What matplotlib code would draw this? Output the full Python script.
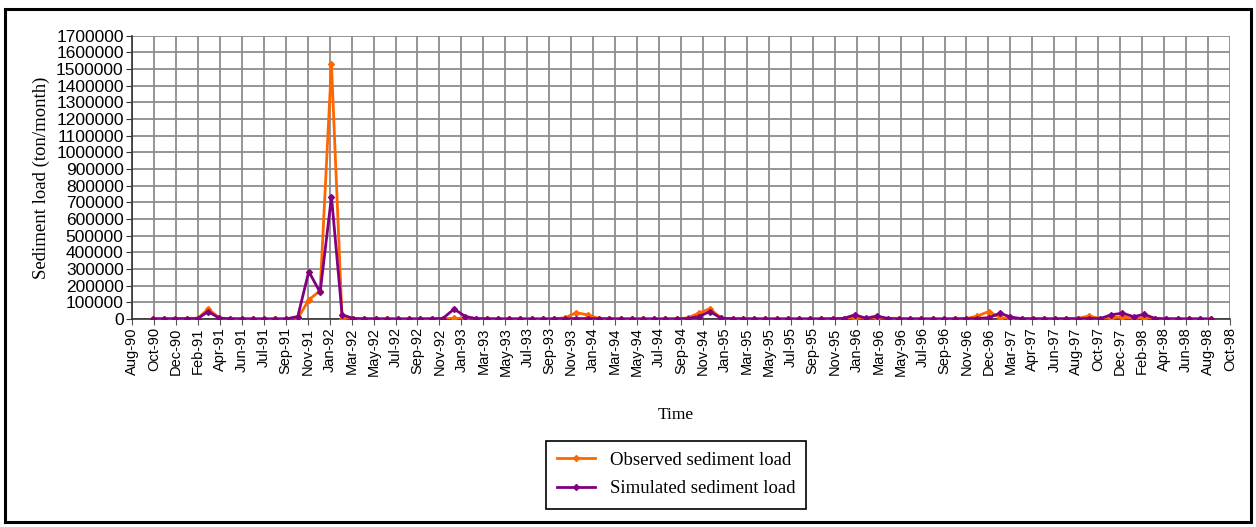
import datetime as dt
import matplotlib
matplotlib.use('Agg')
import matplotlib.pyplot as plt
import matplotlib.dates as mdates
from matplotlib.patches import Rectangle
from matplotlib.ticker import MultipleLocator, FuncFormatter

# Monthly sediment load, Oct-1990 .. Sep-1998 (ton/month), one row per water year
months = [dt.date(1990 + (9 + i) // 12, (9 + i) % 12 + 1, 1) for i in range(96)]

observed = [
    2000, 1500, 2000, 3000, 4000, 60000, 6000, 2000, 1000, 800, 500, 300,          # WY91
    200, 3000, 115000, 170000, 1530000, 2000, 1000, 800, 600, 500, 500, 400,       # WY92
    500, 1000, 2000, 4000, 3000, 1500, 1000, 800, 500, 400, 300, 300,              # WY93
    1000, 8000, 38000, 25000, 3000, 1500, 1000, 800, 500, 400, 400, 1500,          # WY94
    6000, 35000, 62000, 4000, 2000, 1500, 1000, 800, 600, 500, 400, 400,           # WY95
    500, 1000, 2000, 5000, 2000, 6000, 2000, 1000, 600, 500, 400, 400,             # WY96
    1000, 3000, 18000, 45000, 8000, 3000, 1500, 1000, 800, 1000, 3000, 3000,       # WY97
    18000, 3000, 8000, 12000, 4000, 6000, 1500, 1000, 800, 600, 500, 400,          # WY98
]

simulated = [
    1000, 1000, 1500, 2000, 3000, 45000, 4000, 1500, 1000, 800, 600, 500,          # WY91
    1000, 15000, 285000, 160000, 735000, 25000, 3000, 1500, 1000, 800, 600, 500,   # WY92
    800, 1500, 3000, 60000, 15000, 3000, 1500, 1000, 800, 600, 500, 500,           # WY93
    800, 1500, 3000, 2500, 1500, 1000, 800, 600, 500, 500, 500, 1000,              # WY94
    3000, 15000, 45000, 4000, 2000, 1500, 1000, 800, 600, 500, 500, 500,           # WY95
    1000, 2000, 3000, 25000, 4000, 18000, 3000, 1500, 1000, 800, 600, 500,         # WY96
    1000, 2000, 3000, 8000, 35000, 12000, 2000, 1500, 1000, 800, 1000, 1500,       # WY97
    3000, 2000, 25000, 35000, 14000, 28000, 3000, 1500, 1000, 800, 600, 500,       # WY98
]

# date axis: 60-day major unit starting 5 Aug 1990
axis_start = dt.date(1990, 8, 5)
axis_end = axis_start + dt.timedelta(days=3000)

sans = 'Liberation Sans'
serif = 'Liberation Serif'

fig = plt.figure(figsize=(12.56, 5.27), dpi=100)
ax = fig.add_axes([132 / 1256, 1 - 319 / 527, 1098 / 1256, (319 - 35.7) / 527])

ax.plot(months, observed, color='#FF6600', lw=2.0, marker='D', ms=3,
        label='Observed sediment load', zorder=3)
ax.plot(months, simulated, color='#800080', lw=2.0, marker='D', ms=3,
        label='Simulated sediment load', zorder=4)

ax.set_xlim(axis_start, axis_end)
ax.set_ylim(0, 1700000)
ticks = [mdates.date2num(axis_start + dt.timedelta(days=60 * k)) for k in range(51)]
ax.set_xticks(ticks)
ax.xaxis.set_major_formatter(mdates.DateFormatter('%b-%y'))
ax.yaxis.set_major_locator(MultipleLocator(100000))
ax.yaxis.set_major_formatter(FuncFormatter(lambda v, p: f'{int(v)}'))

ax.grid(True, color='#8c8c8c', lw=1.3)
ax.set_axisbelow(True)
for s in ['top', 'right']:
    ax.spines[s].set_visible(False)
for s in ['left', 'bottom']:
    ax.spines[s].set_color('#333333')
    ax.spines[s].set_linewidth(1.2)

ax.tick_params(axis='x', rotation=90, length=4, color='#555555', pad=2)
ax.tick_params(axis='y', length=4, color='#333333', pad=2)
for lab in ax.get_xticklabels():
    lab.set_fontfamily(sans)
    lab.set_fontsize(10.5)
for lab in ax.get_yticklabels():
    lab.set_fontfamily(sans)
    lab.set_fontsize(12.5)

ax.set_ylabel('Sediment load (ton/month)', fontfamily=serif, fontsize=13.5, labelpad=4)
fig.text(676 / 1256, 1 - 415 / 527, 'Time', fontfamily=serif, fontsize=12.5,
         ha='center', va='center')

fig.legend(loc='center', bbox_to_anchor=(676 / 1256, 1 - 474.5 / 527),
           prop={'family': serif, 'size': 13.5}, frameon=True, fancybox=False,
           edgecolor='black', framealpha=1, handlelength=2.0, labelspacing=0.6,
           borderpad=0.6)
fig.legends[0].get_frame().set_linewidth(1.2)

# outer chart frame
fig.patches.append(Rectangle((5 / 1256, 5 / 527), 1246 / 1256, 513 / 527,
                             transform=fig.transFigure, fill=False,
                             edgecolor='black', lw=2.2))

fig.savefig('out.png', dpi=100)
